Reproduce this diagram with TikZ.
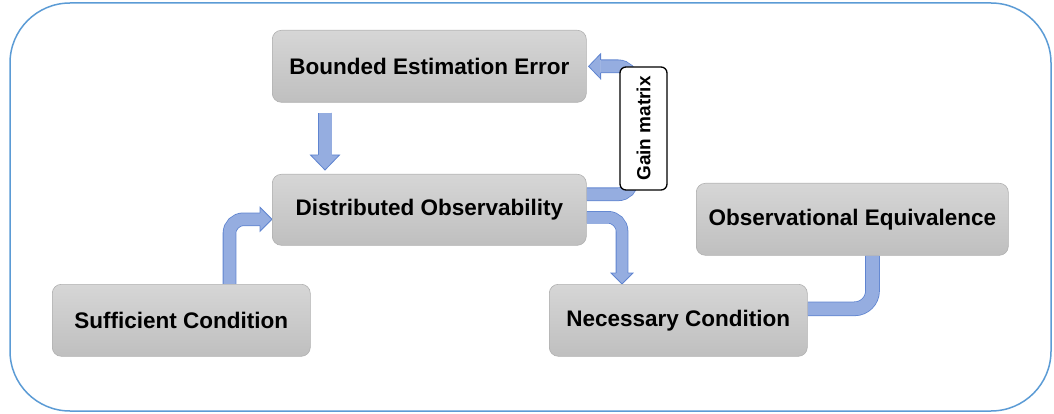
\documentclass[tikz,border=0pt]{standalone}
\usepackage{fontspec}
\setmainfont{Liberation Sans}
\usetikzlibrary{calc,backgrounds}
\definecolor{framec}{HTML}{5B9BD5}
\definecolor{boxtop}{HTML}{D6D6D6}
\definecolor{boxbot}{HTML}{BFBFBF}
\definecolor{boxline}{HTML}{B0B0B0}
\definecolor{arrfill}{HTML}{95ADE0}
\definecolor{arrline}{HTML}{5F84D0}
% block arrow head: #1 base point, #2 rotation, #3 shaft width, #4 head width, #5 head length
\newcommand\myhead[5]{\begin{scope}[shift={(#1)},rotate=#2]
\fill[arrfill] (0,-#4/2) -- (#5,0) -- (0,#4/2) -- cycle;
\draw[arrline, line width=0.8pt, line join=miter] (0,-#3/2-0.4) -- (0,-#4/2) -- (#5,0) -- (0,#4/2) -- (0,#3/2+0.4);
\end{scope}}
\begin{document}
\begin{tikzpicture}[x=1pt,y=-1pt,
  box/.style={draw=boxline, line width=0.6pt, rounded corners=9pt, top color=boxtop, bottom color=boxbot,
    font=\bfseries\fontsize{22.5}{27}\selectfont, inner sep=0pt, anchor=north west},
  bshaft/.style={draw=arrline, line width=0.8pt, double=arrfill, double distance=#1}]
\useasboundingbox (0,0) rectangle (1054,414);
\draw[framec, line width=1.5pt, rounded corners=60pt] (10,3) rectangle (1051,411);

\node[box, minimum width=314, minimum height=72] (bee) at (272,30) {Bounded Estimation Error};
\node[box, minimum width=314, minimum height=71] (dob) at (272,174) {Distributed Observability};
\node[box, minimum width=258, minimum height=72] (suf) at (52,284) {Sufficient Condition};
\node[box, minimum width=258, minimum height=72] (nec) at (549,284) {Necessary Condition};
\node[box, minimum width=312, minimum height=72] (obs) at (696,183) {Observational Equivalence};

\node[draw=black, line width=1.3pt, rounded corners=6pt, fill=white, rotate=90,
  minimum width=123, minimum height=47, inner sep=0pt,
  font=\bfseries\fontsize{19}{22}\selectfont] (gm) at (643.5,128.5) {Gain matrix};

\coordinate (a1s) at ($(bee.south west)+(53,10)$);
\coordinate (a1e) at ($(dob.north west)+(53,-19)$);
\coordinate (a2s) at ($(suf.north west)+(177.5,0)$);
\coordinate (a2e) at ($(dob.west)+(-12,9.5)$);
\coordinate (a3s) at ($(dob.east)+(0,-15.5)$);
\coordinate (a3m) at ($(gm.center)+(-11.5,0)$);
\coordinate (a3e) at ($(bee.east)+(14,0)$);
\coordinate (a4s) at ($(dob.east)+(0,7.5)$);
\coordinate (a4e) at ($(nec.north west)+(73,-11)$);
\coordinate (a5s) at ($(obs.south west)+(176.5,0)$);
\coordinate (a5e) at ($(nec.east)+(0,-11.5)$);

\begin{scope}[on background layer]
% Bounded -> Distributed
\draw[bshaft=13] (a1s) -- (a1e);
\myhead{a1e}{-90}{13}{29}{15}
% Sufficient -> Distributed
\draw[bshaft=12, rounded corners=14pt] (a2s) |- (a2e);
\myhead{a2e}{0}{12}{24}{12}
% Distributed -> Bounded (gain matrix)
\draw[bshaft=12, rounded corners=14pt] (a3s) -| (a3m) |- (a3e);
\myhead{a3e}{180}{12}{25}{12}
% Distributed -> Necessary
\draw[bshaft=11, rounded corners=14pt] (a4s) -| (a4e);
\myhead{a4e}{-90}{11}{22}{11}
% Observational -- Necessary
\draw[bshaft=13, rounded corners=18pt] (a5s) |- (a5e);
\end{scope}
\end{tikzpicture}
\end{document}
